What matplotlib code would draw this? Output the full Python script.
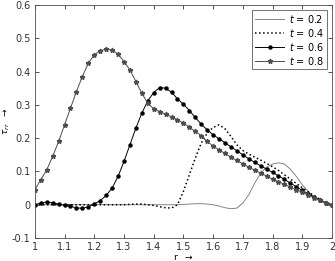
import numpy as np
import matplotlib
matplotlib.use('Agg')
import matplotlib.pyplot as plt

r = np.round(np.arange(1.0, 2.0001, 0.02), 2)

# t = 0.2
tau_02 = [0.0, 0.0, 0.0, 0.0, 0.0, 0.0, 0.0, 0.0, 0.0, 0.0,
          0.0, 0.0, 0.0, 0.0, 0.0, 0.0, 0.0, 0.0, 0.0, 0.0,
          0.0, 0.0, 0.0, 0.0, 0.0, 0.001, 0.002, 0.003, 0.003, 0.002,
          0.0, -0.004, -0.009, -0.012, -0.010, 0.005, 0.030, 0.065, 0.095, 0.113,
          0.122, 0.126, 0.122, 0.107, 0.085, 0.060, 0.040, 0.022, 0.010, 0.004,
          0.0]
# t = 0.4
tau_04 = [0.0, 0.0, 0.0, 0.0, 0.0, 0.0, 0.0, 0.0, 0.0, 0.0,
          0.0, 0.0, 0.0, 0.0, 0.0, 0.0, 0.001, 0.002, 0.002, 0.0,
          -0.002, -0.006, -0.009, -0.010, 0.0, 0.040, 0.090, 0.140, 0.185, 0.215,
          0.232, 0.240, 0.228, 0.205, 0.180, 0.163, 0.152, 0.143, 0.134, 0.124,
          0.114, 0.103, 0.090, 0.077, 0.064, 0.051, 0.039, 0.027, 0.016, 0.007,
          0.0]
# t = 0.6
tau_06 = [0.0, 0.005, 0.008, 0.006, 0.002, -0.002, -0.005, -0.009, -0.011, -0.006,
          0.003, 0.012, 0.028, 0.050, 0.085, 0.130, 0.180, 0.230, 0.275, 0.312,
          0.337, 0.352, 0.350, 0.338, 0.318, 0.302, 0.283, 0.262, 0.242, 0.225,
          0.210, 0.198, 0.186, 0.174, 0.162, 0.150, 0.138, 0.127, 0.117, 0.107,
          0.097, 0.087, 0.076, 0.065, 0.054, 0.043, 0.033, 0.023, 0.014, 0.006,
          0.0]
# t = 0.8
tau_08 = [0.045, 0.075, 0.105, 0.145, 0.190, 0.240, 0.290, 0.340, 0.385, 0.425,
          0.450, 0.463, 0.467, 0.465, 0.452, 0.430, 0.405, 0.370, 0.335, 0.305,
          0.288, 0.280, 0.272, 0.264, 0.255, 0.245, 0.233, 0.220, 0.207, 0.190,
          0.176, 0.165, 0.154, 0.143, 0.133, 0.123, 0.113, 0.104, 0.095, 0.086,
          0.077, 0.069, 0.061, 0.053, 0.045, 0.037, 0.029, 0.021, 0.013, 0.006,
          0.0]

fig = plt.figure(figsize=(3.35, 2.61), dpi=100)
ax = fig.add_axes([0.104, 0.088, 0.887, 0.893])

ax.plot(r, tau_02, '-', color='0.45', lw=0.6, label=r'$t$ = 0.2')
ax.plot(r, tau_04, ':', color='k', lw=1.1, label=r'$t$ = 0.4')
ax.plot(r, tau_06, '-', color='k', lw=0.7, marker='o', ms=2.2, label=r'$t$ = 0.6')
ax.plot(r, tau_08, '-', color='0.3', lw=0.7, marker='*', ms=3.5, label=r'$t$ = 0.8')

ax.set_xlim(1, 2)
ax.set_ylim(-0.1, 0.6)
ax.set_xticks(np.arange(1, 2.01, 0.1))
ax.set_xticklabels(['1', '1.1', '1.2', '1.3', '1.4', '1.5', '1.6', '1.7', '1.8', '1.9', '2'])
ax.set_yticks(np.arange(-0.1, 0.61, 0.1))
ax.set_yticklabels(['-0.1', '0', '0.1', '0.2', '0.3', '0.4', '0.5', '0.6'])
ax.tick_params(direction='in', length=3, width=0.6, labelsize=7, colors='0.2',
               top=True, right=True, pad=3)
for s in ax.spines.values():
    s.set_linewidth(0.6)
    s.set_color('0.3')

ax.set_xlabel(r'r  $\rightarrow$', fontsize=6.5)
ax.xaxis.set_label_coords(0.5, -0.058)
ax.set_ylabel(r'$\tau_{rr}$  $\rightarrow$', fontsize=6.5)
ax.yaxis.set_label_coords(-0.076, 0.5)

leg = ax.legend(loc='upper right', fontsize=7, frameon=True, fancybox=False,
                edgecolor='0.2', handlelength=3, borderpad=0.3, labelspacing=0.2,
                handletextpad=0.5)
leg.get_frame().set_linewidth(0.6)

fig.savefig('out.png', dpi=100)
